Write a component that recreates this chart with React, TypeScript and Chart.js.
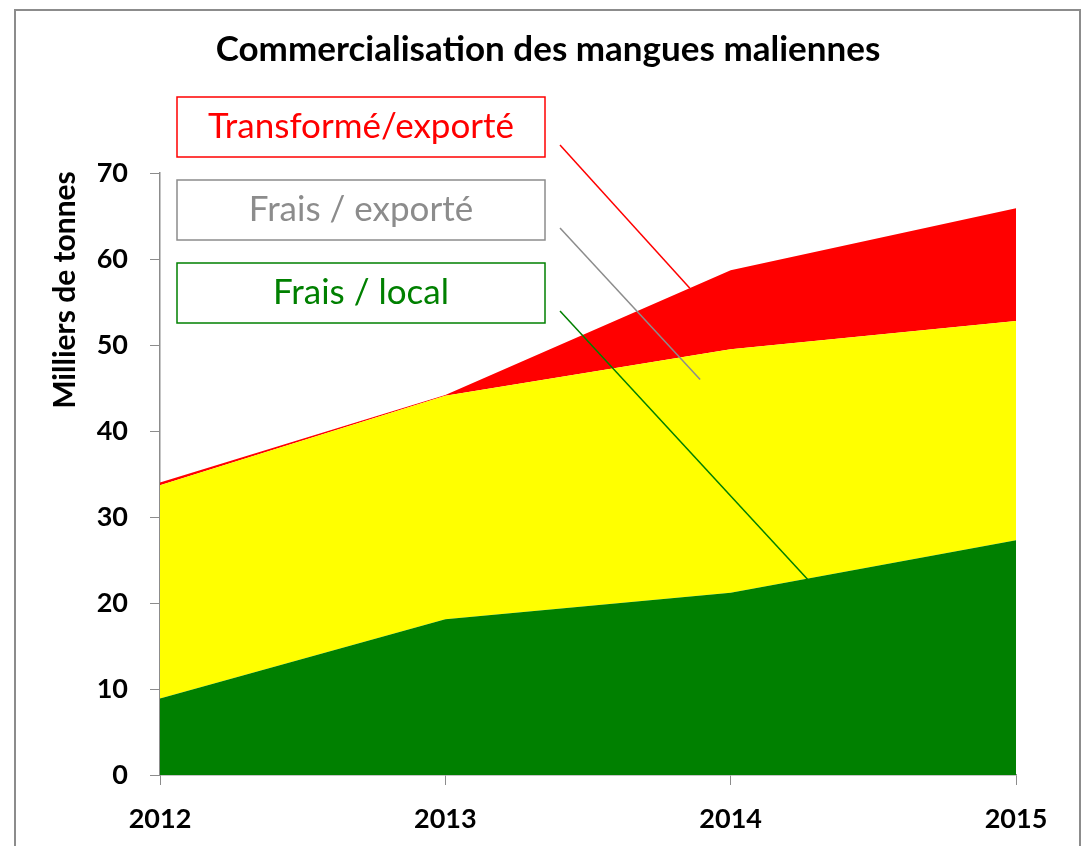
import React, { useEffect, useRef } from "react";
import { Chart, registerables } from "chart.js";

Chart.register(...registerables);

const years = ["2012", "2013", "2014", "2015"];
const fraisLocal = [8.9, 18.1, 21.2, 27.3];
const fraisExporte = [24.8, 26.0, 28.3, 25.5];
const transformeExporte = [0.3, 0.1, 9.2, 13.1];
const yTicks = [0, 10, 20, 30, 40, 50, 60, 70];

const labelNames = ["Transformé/exporté", "Frais / exporté", "Frais / local"];
const labelColors = ["#ff0000", "#8c8c8c", "#008000"];
// where each leader line points, in data units (category index, value)
const leaderTargets: [number, number][] = [
  [1.857, 56.6],
  [1.893, 46.0],
  [2.271, 22.7],
];

const FONT = "Lato, 'Open Sans', sans-serif";

const decorPlugin = {
  id: "decor",
  beforeDraw(chart: any) {
    const ctx = chart.ctx;
    ctx.save();
    ctx.fillStyle = "#ffffff";
    ctx.fillRect(0, 0, chart.width, chart.height);
    ctx.strokeStyle = "#8c8c8c";
    ctx.lineWidth = 2;
    ctx.strokeRect(15, 10, 1065, 900);
    // title
    ctx.fillStyle = "#000";
    ctx.font = `bold 35px ${FONT}`;
    ctx.textAlign = "center";
    ctx.textBaseline = "middle";
    ctx.fillText("Commercialisation des mangues maliennes", 548, 50);
    // y axis title
    ctx.save();
    ctx.translate(65, 290);
    ctx.rotate(-Math.PI / 2);
    ctx.font = `bold 30px ${FONT}`;
    ctx.fillText("Milliers de tonnes", 0, 0);
    ctx.restore();
    ctx.restore();
  },
  afterDraw(chart: any) {
    const ctx = chart.ctx;
    const xs = chart.scales.x;
    const ys = chart.scales.y;
    ctx.save();
    const boxLeft = 177;
    const boxW = 368;
    const boxH = 60;
    const boxTops = [97, 180, 263];
    labelNames.forEach((name, i) => {
      const top = boxTops[i];
      ctx.fillStyle = "#ffffff";
      ctx.fillRect(boxLeft, top, boxW, boxH);
      ctx.strokeStyle = labelColors[i];
      ctx.lineWidth = 1.5;
      ctx.strokeRect(boxLeft, top, boxW, boxH);
      ctx.fillStyle = labelColors[i];
      ctx.font = `35px ${FONT}`;
      ctx.textAlign = "center";
      ctx.textBaseline = "middle";
      ctx.fillText(name, boxLeft + boxW / 2, top + boxH / 2);
      // leader line
      const [tx, tv] = leaderTargets[i];
      ctx.beginPath();
      ctx.moveTo(boxLeft + boxW + 15, top + 48);
      ctx.lineTo(xs.getPixelForValue(tx), ys.getPixelForValue(tv));
      ctx.lineWidth = 1.5;
      ctx.stroke();
    });
    ctx.restore();
  },
};

export default function App() {
  const ref = useRef<HTMLCanvasElement>(null);
  useEffect(() => {
    if (!ref.current) return;
    const chart = new Chart(ref.current, {
      type: "line",
      data: {
        labels: years,
        datasets: [
          {
            label: "Frais / local",
            data: fraisLocal,
            backgroundColor: "#008000",
            borderWidth: 0,
            pointRadius: 0,
            fill: "origin",
          },
          {
            label: "Frais / exporté",
            data: fraisExporte,
            backgroundColor: "#ffff00",
            borderWidth: 0,
            pointRadius: 0,
            fill: "-1",
          },
          {
            label: "Transformé/exporté",
            data: transformeExporte,
            backgroundColor: "#ff0000",
            borderWidth: 0,
            pointRadius: 0,
            fill: "-1",
          },
        ],
      },
      options: {
        animation: false,
        responsive: false,
        layout: { padding: { top: 173, right: 67, left: 0, bottom: 0 } },
        plugins: {
          legend: { display: false },
          title: { display: false },
          tooltip: { enabled: false },
        },
        scales: {
          x: {
            offset: false,
            grid: { drawOnChartArea: false, drawTicks: true, tickLength: 10, color: "#8c8c8c" },
            border: { color: "#8c8c8c", width: 1.5 },
            ticks: {
              color: "#000",
              font: { family: FONT, weight: "bold", size: 27 },
              padding: 18,
              maxRotation: 0,
            },
            afterFit: (s: any) => {
              s.height = 71;
            },
          },
          y: {
            stacked: true,
            min: 0,
            max: 70,
            afterBuildTicks: (s: any) => {
              s.ticks = yTicks.map((v) => ({ value: v }));
            },
            grid: { drawOnChartArea: false, drawTicks: true, tickLength: 10, color: "#8c8c8c" },
            border: { color: "#8c8c8c", width: 1.5 },
            ticks: {
              color: "#000",
              font: { family: FONT, weight: "bold", size: 27 },
              padding: 22,
            },
            afterFit: (s: any) => {
              s.width = 160;
            },
          },
        },
      },
      plugins: [decorPlugin],
    });
    return () => chart.destroy();
  }, []);
  return (
    <div style={{ position: "fixed", left: 0, top: 0, width: 1083, height: 846 }}>
      <canvas ref={ref} width={1083} height={846} style={{ width: 1083, height: 846 }} />
    </div>
  );
}
